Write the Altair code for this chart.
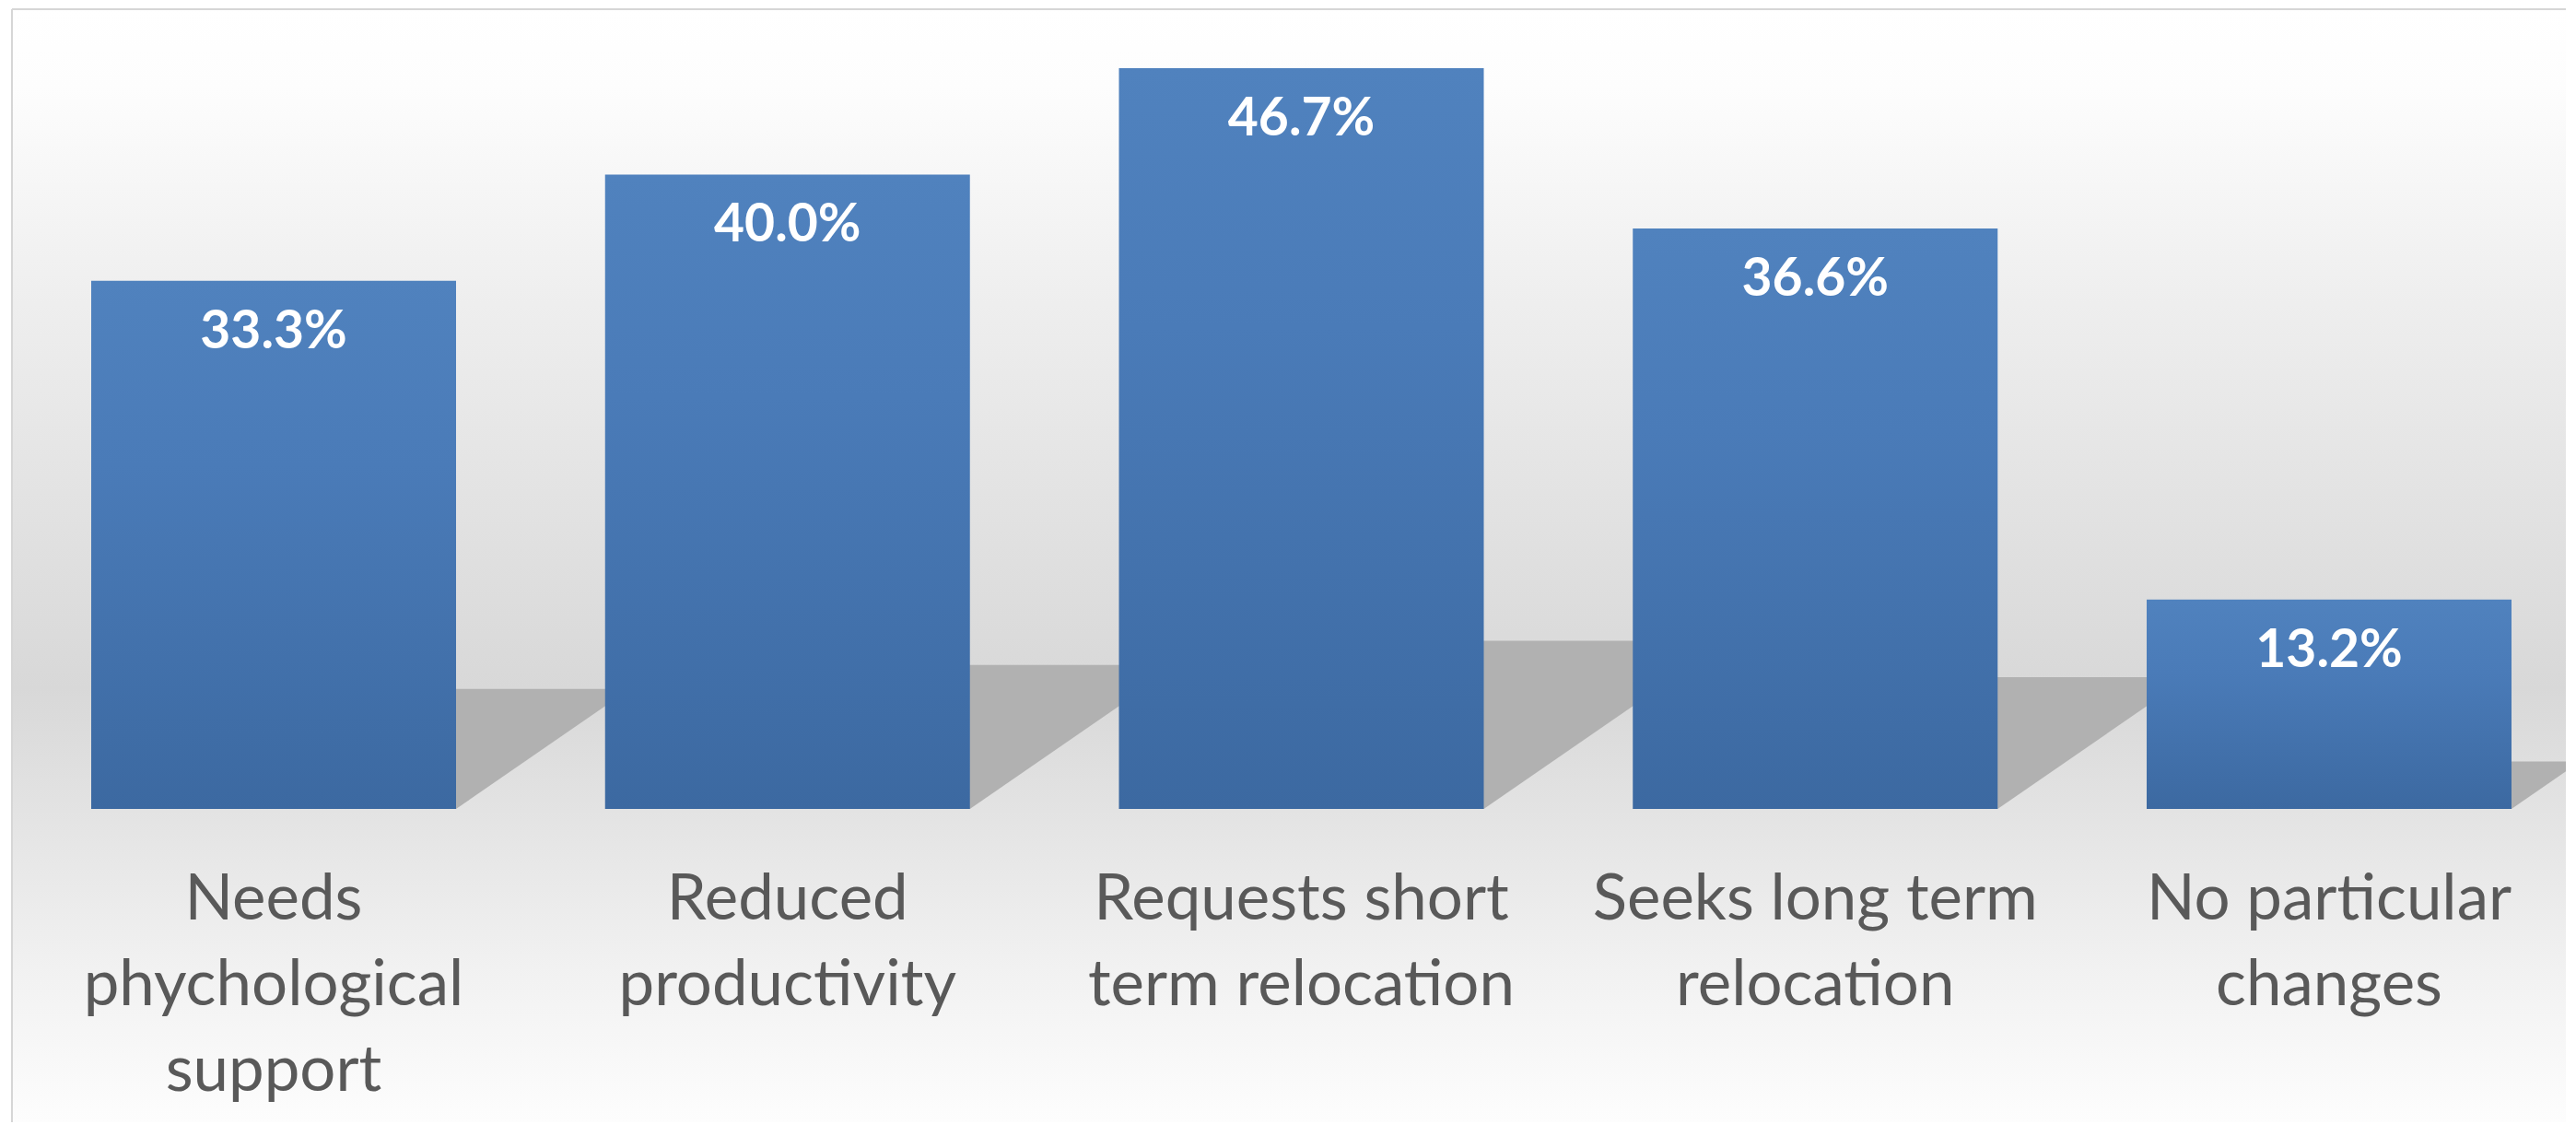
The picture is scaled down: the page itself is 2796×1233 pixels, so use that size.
import altair as alt
import pandas as pd

# ---- data -------------------------------------------------------------
categories = [
    "Needs\nphychological\nsupport",
    "Reduced\nproductivity",
    "Requests short\nterm relocation",
    "Seeks long term\nrelocation",
    "No particular\nchanges",
]
values = [33.3, 40.0, 46.7, 36.6, 13.2]

# ---- layout / style constants -----------------------------------------
W = 2772          # plot width
H = 868           # plot height (baseline at bottom)
BG_H = 1208       # background panel height (extends below the axis)
Y_MAX = 50.42
BAND_RANGE = [86, 2713]
PAD_INNER = 0.29
N = len(categories)
STEP = (BAND_RANGE[1] - BAND_RANGE[0]) / (N - PAD_INNER)
HALF = (1 - PAD_INNER) / 2
CENTER0 = BAND_RANGE[0] + STEP * HALF
PX_PER_UNIT = H / Y_MAX
SHADOW_H = 0.227      # shadow depth as fraction of bar height
SHADOW_SLANT = 1.45   # horizontal px per vertical px of shadow

bars_df = pd.DataFrame({"category": categories, "value": values})

rows = []
for i, (c, v) in enumerate(zip(categories, values)):
    hs = SHADOW_H * v
    dx = SHADOW_SLANT * hs * PX_PER_UNIT / STEP
    left, right = i - HALF, i + HALF
    rows += [
        {"cat": c, "xs": left, "top": 0.0, "bot": 0.0},
        {"cat": c, "xs": left + dx, "top": hs, "bot": 0.0},
        {"cat": c, "xs": right, "top": hs, "bot": 0.0},
        {"cat": c, "xs": right + dx, "top": hs, "bot": hs},
    ]
shadow_df = pd.DataFrame(rows)

y_scale = alt.Scale(domain=[0, Y_MAX], nice=False, zero=True)
x_band = alt.Scale(range=BAND_RANGE, paddingInner=PAD_INNER, paddingOuter=0)

bg_grad = alt.LinearGradient(
    gradient="linear", x1=0, y1=0, x2=0, y2=1,
    stops=[
        alt.GradientStop(offset=0.0, color="#ffffff"),
        alt.GradientStop(offset=0.07, color="#fdfdfd"),
        alt.GradientStop(offset=0.25, color="#efefef"),
        alt.GradientStop(offset=0.45, color="#e2e2e2"),
        alt.GradientStop(offset=0.61, color="#d8d8d8"),
        alt.GradientStop(offset=0.73, color="#e4e4e4"),
        alt.GradientStop(offset=0.86, color="#f1f1f1"),
        alt.GradientStop(offset=1.0, color="#fdfdfd"),
    ],
)
bar_grad = alt.LinearGradient(
    gradient="linear", x1=0, y1=0, x2=0, y2=1,
    stops=[
        alt.GradientStop(offset=0.0, color="#5082be"),
        alt.GradientStop(offset=0.35, color="#4a7bb8"),
        alt.GradientStop(offset=1.0, color="#3c69a1"),
    ],
)

one = alt.Data(values=[{}])

bg = alt.Chart(one).mark_rect(color=bg_grad).encode(
    x=alt.value(0), x2=alt.value(W), y=alt.value(0), y2=alt.value(BG_H)
)
frame_top = alt.Chart(one).mark_rule(color="#d6d6d6", strokeWidth=2).encode(
    x=alt.value(0), x2=alt.value(W), y=alt.value(0)
)
frame_left = alt.Chart(one).mark_rule(color="#d6d6d6", strokeWidth=2).encode(
    x=alt.value(0), y=alt.value(0), y2=alt.value(BG_H)
)

shadow = alt.Chart(shadow_df).mark_area(color="#b1b1b1", opacity=1, clip=True).encode(
    x=alt.X("xs:Q", scale=alt.Scale(domain=[0, N - 1], range=[CENTER0, CENTER0 + STEP * (N - 1)], nice=False, zero=False), axis=None),
    y=alt.Y("top:Q", scale=y_scale, axis=None),
    y2="bot:Q",
    detail="cat:N",
)

x_axis = alt.Axis(
    title=None, labelAngle=0, domain=False, ticks=False, tickSize=0, grid=False,
    labelExpr="split(datum.label, '\\n')",
    labelFont="Lato", labelFontSize=69, labelColor="#595959",
    labelLineHeight=93, labelPadding=64, labelLimit=800, labelOverlap=False,
    labelBaseline="top", zindex=2,
)

bar = alt.Chart(bars_df).mark_bar(color=bar_grad).encode(
    x=alt.X("category:N", sort=None, scale=x_band, axis=x_axis),
    y=alt.Y("value:Q", scale=y_scale, axis=None),
)
labels = alt.Chart(bars_df).transform_calculate(
    lbl="format(datum.value, '.1f') + '%'"
).mark_text(
    font="Lato", fontWeight="bold", fontSize=57, color="white",
    baseline="alphabetic", align="center", dy=73,
).encode(
    x=alt.X("category:N", sort=None, scale=x_band, axis=x_axis),
    y=alt.Y("value:Q", scale=y_scale, axis=None),
    text="lbl:N",
)

main = alt.layer(bar, labels)

chart = alt.layer(bg, frame_top, frame_left, shadow, main).resolve_scale(
    x="independent"
).properties(
    width=W, height=H,
    padding={"left": 4, "top": 1, "right": 0, "bottom": 0},
    background="white",
).configure_view(strokeWidth=0)

chart.save("out.html", embed_options={"renderer": "svg", "actions": False})
